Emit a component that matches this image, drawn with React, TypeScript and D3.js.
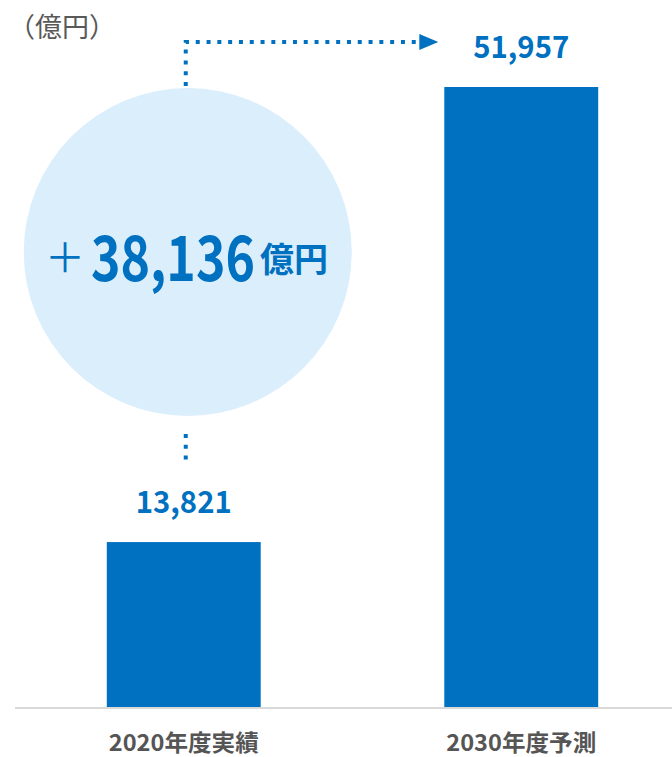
import React from 'react';
import * as d3 from 'd3';

const categories = ['2020年度実績', '2030年度予測'];
const values = [13821, 51957];
const unitLabel = '（億円）';
const diffUnit = '億円';

const W = 672;
const H = 757;
const BLUE = '#0070c0';
const FONT = '"Noto Sans CJK JP", "Noto Sans", sans-serif';

export default function App() {
    const x = d3.scaleBand<string>()
        .domain(categories)
        .range([15, 690])
        .paddingInner(0.544)
        .paddingOuter(0.272);
    const y = d3.scaleLinear().domain([0, d3.max(values)!]).range([707, 87]);
    const fmt = d3.format(',');
    const diff = values[1] - values[0];

    const c0 = x(categories[0])! + x.bandwidth() / 2;
    const c1x = x(categories[1])!;
    const cx = c0 + 4;
    const cy = 252;
    const r = 164;
    const lineX = c0 + 2;
    const arrowY = 42;
    const arrowEnd = c1x - 6;

    return (
        <svg width={W} height={H} style={{ position: 'absolute', left: 0, top: 0 }}>
            <text x={8} y={37} fontSize={27} fill="#595959" fontFamily={FONT}>{unitLabel}</text>

            <circle cx={cx} cy={cy} r={r} fill="#dbeefc" />
            <g fill={BLUE} fontFamily={FONT}>
                <text x={45} y={272} fontSize={40} fontWeight={400}>＋</text>
                <text x={91} y={281} fontSize={63} fontWeight={700}
                    textLength={164} lengthAdjust="spacingAndGlyphs">{fmt(diff)}</text>
                <text x={260} y={272} fontSize={34} fontWeight={700}>{diffUnit}</text>
            </g>

            <path d={`M${lineX},86 V${arrowY} H${arrowEnd - 16}`} fill="none" stroke={BLUE}
                strokeWidth={4} strokeDasharray="4 6.8" />
            <path d={`M${arrowEnd - 19},${arrowY - 8} L${arrowEnd},${arrowY} L${arrowEnd - 19},${arrowY + 8} Z`} fill={BLUE} />
            <path d={`M${lineX},434 V462`} fill="none" stroke={BLUE} strokeWidth={4} strokeDasharray="4 6.8" />

            {categories.map((c, i) => (
                <g key={c}>
                    <rect x={x(c)} y={y(values[i])} width={x.bandwidth()} height={y(0) - y(values[i])} fill={BLUE} />
                    <text x={x(c)! + x.bandwidth() / 2} y={y(values[i]) - 29} textAnchor="middle"
                        fontSize={31} fontWeight={700} fill={BLUE} fontFamily={FONT}
                        textLength={96} lengthAdjust="spacingAndGlyphs">{fmt(values[i])}</text>
                    <text x={x(c)! + x.bandwidth() / 2} y={751} textAnchor="middle"
                        fontSize={23} fontWeight={700} fill="#555555" fontFamily={FONT}
                        textLength={150} lengthAdjust="spacingAndGlyphs">{c}</text>
                </g>
            ))}

            <line x1={15} x2={W} y1={708} y2={708} stroke="#d9d9d9" strokeWidth={2} />
        </svg>
    );
}
